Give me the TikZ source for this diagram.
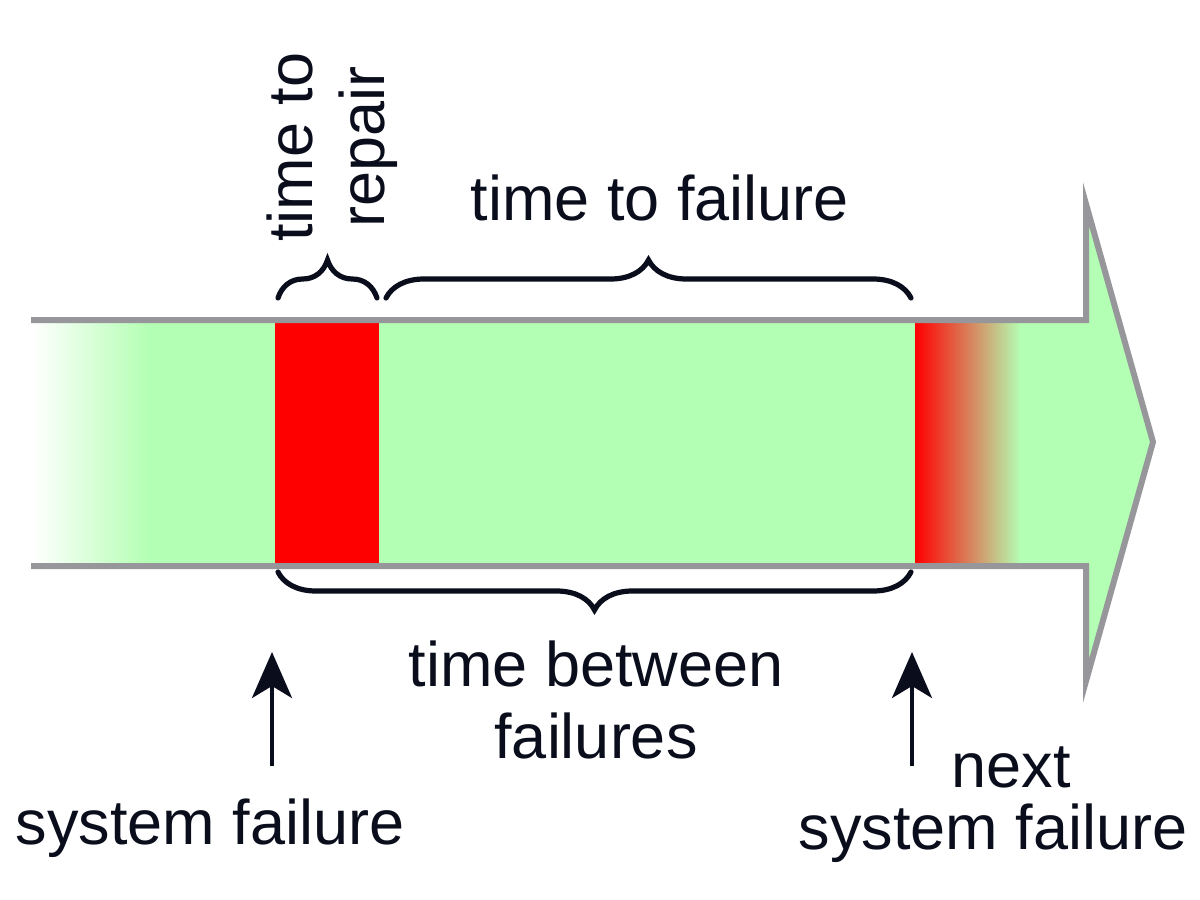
\documentclass[tikz,border=0pt]{standalone}
\usepackage{fontspec}
\setmainfont{Liberation Sans}
\usetikzlibrary{arrows.meta,decorations.pathreplacing}
\definecolor{bandgreen}{RGB}{179,255,179}
\definecolor{bandred}{RGB}{255,0,0}
\definecolor{edgegray}{RGB}{150,150,155}
\definecolor{ink}{RGB}{10,14,28}
\tikzset{
  lbl/.style={text=ink,font=\fontsize{31.5}{36}\selectfont,align=center,inner sep=0pt},
  bracestyle/.style={draw=ink,line width=2.6pt,line cap=round,decorate,decoration={brace,amplitude=19pt}},
  uparrow/.style={draw=ink,line width=2pt,-{Stealth[length=23pt,width=20pt,inset=6pt]}},
  edge/.style={draw=edgegray,line width=3pt}
}
\begin{document}
\begin{tikzpicture}[x=0.5pt,y=-0.5pt]
\useasboundingbox (0,0) rectangle (1200,900);
% band fill
\shade[left color=white,right color=bandgreen,draw=none] (31,320) rectangle (150,566);
\fill[bandgreen] (149,320) rectangle (276,566);
\fill[bandred] (275,320) rectangle (379,566);
\fill[bandgreen] (379,320) rectangle (916,566);
\shade[left color=bandred,right color=bandgreen,draw=none] (915,320) rectangle (1021,566);
\fill[bandgreen] (1020,320) -- (1086,320) -- (1086,204) -- (1153,442) -- (1086,681) -- (1086,566) -- (1020,566) -- cycle;
% outline
\draw[edge,line join=miter] (31,320) -- (1086,320) -- (1086,204) -- (1153,442) -- (1086,681) -- (1086,566) -- (31,566);
% braces
\coordinate (r1) at (278,298);
\coordinate (r2) at (377,298);
\coordinate (f1) at (386,298);
\coordinate (f2) at (911,298);
\coordinate (b1) at (911,572);
\coordinate (b2) at (278,572);
\draw[bracestyle] (r1) -- (r2);
\draw[bracestyle] (f1) -- (f2);
\draw[bracestyle] (b1) -- (b2);
% labels
\node[lbl,rotate=90] (ttr) at (332,147) {time to\\repair};
\node[lbl] (ttf) at (660,198) {time to failure};
\node[lbl] (tbf) at (596,700) {time between\\failures};
\node[lbl] (sf) at (210,828) {system failure};
\node[lbl,font=\fontsize{31.5}{31}\selectfont] (nsf) at (993,805) {\hspace*{18pt}next\\system failure};
% arrows
\coordinate (a1s) at (272,766);
\coordinate (a1e) at (272,652);
\coordinate (a2s) at (912,766);
\coordinate (a2e) at (912,652);
\draw[uparrow] (a1s) -- (a1e);
\draw[uparrow] (a2s) -- (a2e);
\end{tikzpicture}
\end{document}
